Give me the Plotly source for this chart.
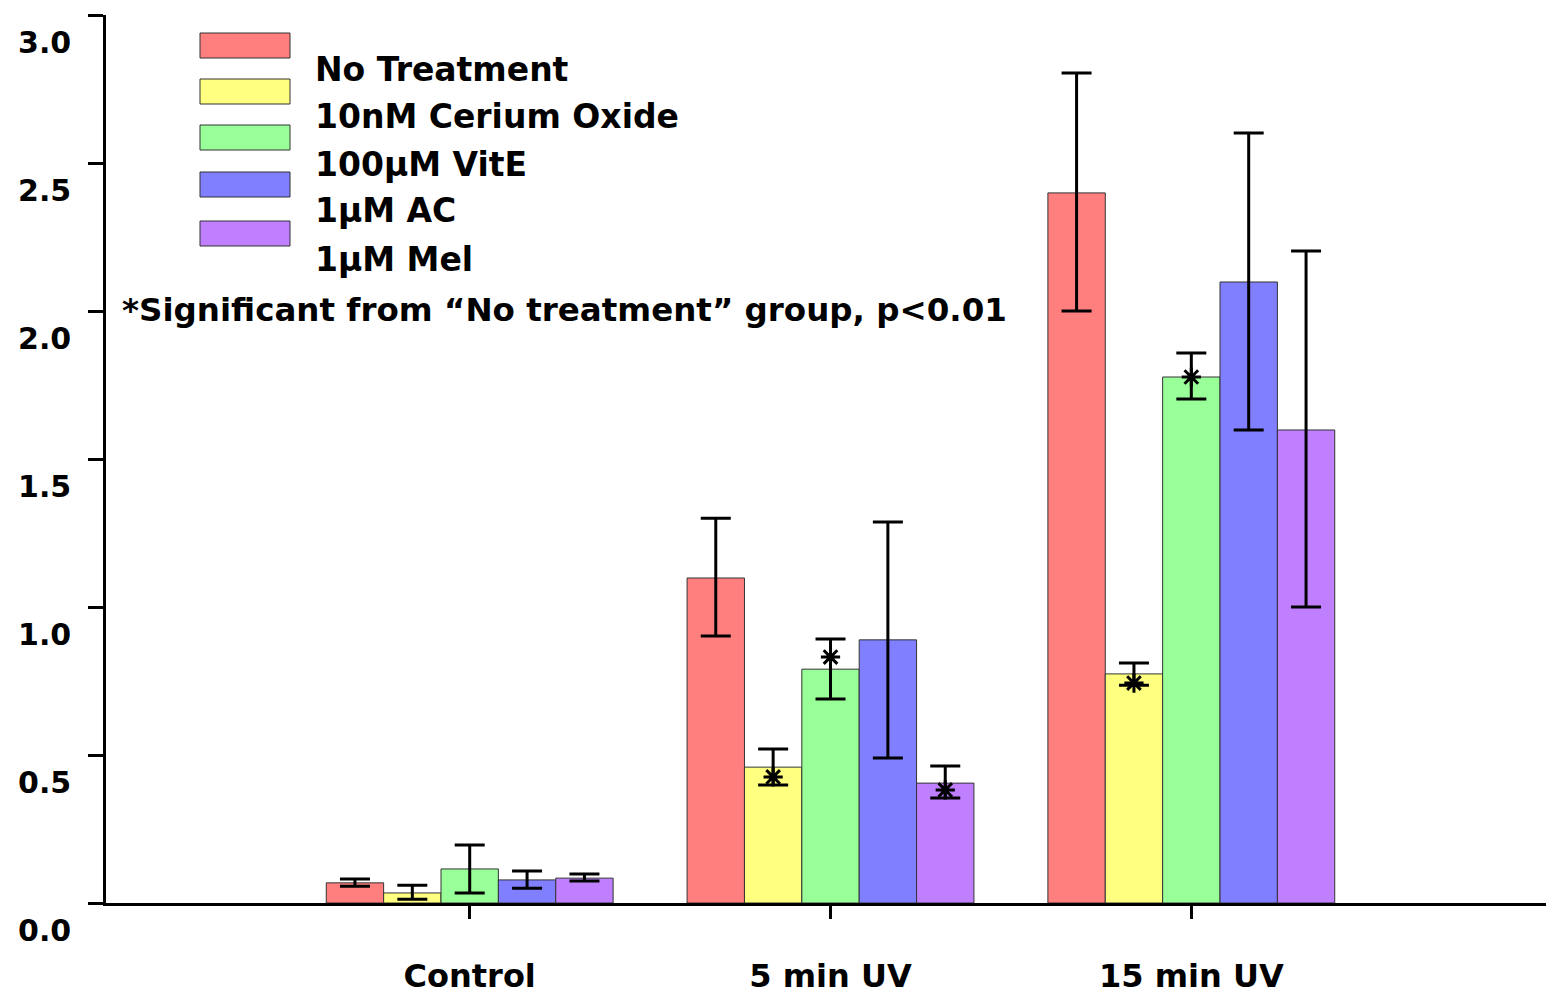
import plotly.graph_objects as go

categories = ["Control", "5 min UV", "15 min UV"]
series_names = ["No Treatment", "10nM Cerium Oxide", "100\u03bcM VitE", "1\u03bcM AC", "1\u03bcM Mel"]
colors = ["#FF7F7F", "#FFFF80", "#99FF99", "#7F7FFF", "#BF7FFF"]

means = [
    [0.068, 1.098, 2.399],
    [0.034, 0.459, 0.774],
    [0.115, 0.790, 1.777],
    [0.078, 0.889, 2.098],
    [0.084, 0.405, 1.598],
]
err_plus = [
    [0.013, 0.202, 0.405],
    [0.026, 0.061, 0.037],
    [0.081, 0.102, 0.081],
    [0.030, 0.398, 0.503],
    [0.014, 0.058, 0.605],
]
err_minus = [
    [0.011, 0.196, 0.399],
    [0.021, 0.060, 0.038],
    [0.081, 0.101, 0.074],
    [0.028, 0.399, 0.500],
    [0.010, 0.050, 0.598],
]
# significance asterisks: (series index, category index, y value)
sig_series = [1, 2, 4, 1, 2]
sig_cat = [1, 1, 1, 2, 2]
sig_y = [0.426, 0.831, 0.382, 0.743, 1.777]

y_ticks = [0.0, 0.5, 1.0, 1.5, 2.0, 2.5, 3.0]
note = "*Significant from \u201cNo treatment\u201d group, p<0.01"

BAR_W = 0.159
FONT = "DejaVu Sans"

def xpos(series_idx, cat_idx):
    return cat_idx + (series_idx - 2) * BAR_W

fig = go.Figure()
for i, name in enumerate(series_names):
    fig.add_trace(go.Bar(
        x=[xpos(i, c) for c in range(len(categories))],
        y=means[i],
        width=BAR_W,
        name=name,
        marker=dict(color=colors[i], line=dict(color="#333333", width=1)),
        error_y=dict(type="data", symmetric=False, array=err_plus[i], arrayminus=err_minus[i],
                     color="black", thickness=3, width=15),
        showlegend=False,
    ))

fig.add_trace(go.Scatter(
    x=[xpos(s, c) for s, c in zip(sig_series, sig_cat)],
    y=sig_y,
    mode="markers",
    marker=dict(symbol="asterisk-open", size=16, color="black", line=dict(color="black", width=3)),
    showlegend=False,
))

# custom legend (pixel layout converted to paper coords)
L, T, PW, PH = 106, 15, 1440, 888
def px(xp):
    return (xp - L) / PW
def py(yp):
    return (T + PH - yp) / PH

sw_top = [33, 79, 125, 172, 221]
txt_y = [69, 116, 164, 211, 259]
shapes = []
annotations = []
for i, name in enumerate(series_names):
    shapes.append(dict(type="rect", xref="paper", yref="paper",
                       x0=px(200), x1=px(290), y0=py(sw_top[i] + 25), y1=py(sw_top[i]),
                       fillcolor=colors[i], line=dict(color="#333333", width=1)))
    annotations.append(dict(xref="paper", yref="paper", x=px(313), y=py(txt_y[i]),
                            xanchor="left", yanchor="middle", showarrow=False,
                            text="<b>%s</b>" % name, font=dict(family=FONT, size=33, color="black")))
annotations.append(dict(xref="paper", yref="paper", x=px(120), y=py(310),
                        xanchor="left", yanchor="middle", showarrow=False,
                        text="<b>%s</b>" % note, font=dict(family=FONT, size=32.5, color="black")))

fig.update_layout(
    width=1546, height=997,
    margin=dict(l=L, r=0, t=T, b=997 - T - PH, autoexpand=False),
    paper_bgcolor="white", plot_bgcolor="white",
    barmode="overlay",
    shapes=shapes,
    annotations=annotations,
    font=dict(family=FONT, color="black"),
    xaxis=dict(range=[-1.008, 2.983], tickvals=list(range(len(categories))),
               ticktext=["<b>%s</b>" % c for c in categories], automargin=False,
               showline=True, linecolor="black", linewidth=2.5, showgrid=False, zeroline=False,
               ticks="outside", ticklen=13, tickwidth=3, tickcolor="black",
               tickfont=dict(family=FONT, size=32, color="black"), ticklabelstandoff=30),
    yaxis=dict(range=[0, 3.0], tickvals=y_ticks, ticktext=["<b>%.1f</b>" % v for v in y_ticks],
               automargin=False,
               showline=True, linecolor="black", linewidth=2.5, showgrid=False, zeroline=False,
               ticks="outside", ticklen=15, tickwidth=3, tickcolor="black",
               tickfont=dict(family=FONT, size=30, color="black"), ticklabelstandoff=11,
               ticklabelshift=27),
)

fig.write_html("out.html")
